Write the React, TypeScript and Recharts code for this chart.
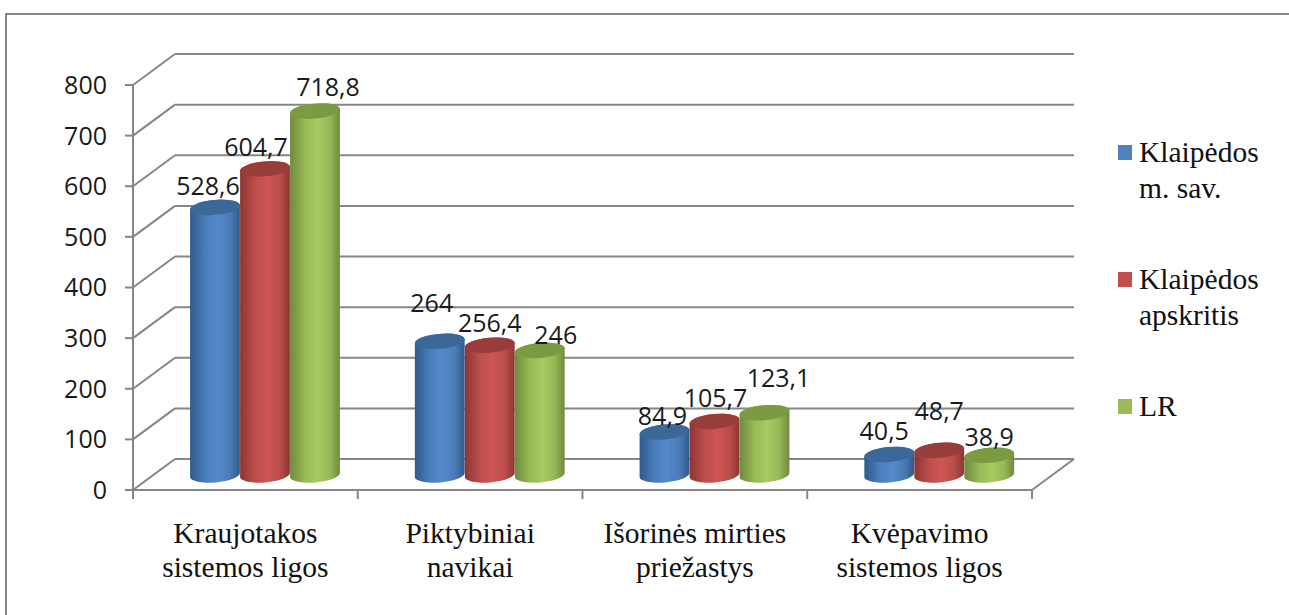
import React from 'react';
import { BarChart, Bar, XAxis, YAxis, CartesianGrid, Legend, LabelList } from 'recharts';

const categories = [
  'Kraujotakos\nsistemos ligos',
  'Piktybiniai\nnavikai',
  'Išorinės mirties\npriežastys',
  'Kvėpavimo\nsistemos ligos',
];
const klaipedaCity = [528.6, 264, 84.9, 40.5];
const klaipedaCounty = [604.7, 256.4, 105.7, 48.7];
const lithuania = [718.8, 246, 123.1, 38.9];
const yTicks = [0, 100, 200, 300, 400, 500, 600, 700, 800];

const chartData = categories.map((name, i) => ({
  name,
  city: klaipedaCity[i],
  county: klaipedaCounty[i],
  lr: lithuania[i],
}));

const WIDTH = 1289;
const HEIGHT = 615;
const GRID = '#868686';
const NUM_FONT = '"Open Sans", sans-serif';
const TEXT_FONT = '"Liberation Serif", serif';

// fake 3D: depth of the floor, bars stand half way in
const DEPTH_X = 42;
const DEPTH_Y = 31;
const BAR_DX = 20;
const BAR_DY = -15;
const RY = 7.5;
const TILT = -5;

const PLOT_LEFT = 133;
const PLOT_RIGHT = 1032;
const BAND = (PLOT_RIGHT - PLOT_LEFT) / categories.length;

// the value labels are not placed evenly in the original
const cityNudge = [[-7, -22], [-8, -39], [-2, -17], [-5, -24]];
const countyNudge = [[-9, -23], [0, -23], [1, -24], [0, -40]];
const lrNudge = [[13, -25], [16, -16], [14, -36], [0, -19]];

const Cylinder = (props: any) => {
  const { x, y, width, height, gradient, cap } = props;
  const rx = width / 2;
  const cx = x + rx + BAR_DX;
  const top = y + BAR_DY;
  const bottom = y + height + BAR_DY;
  const a = (TILT * Math.PI) / 180;
  const ex = rx * Math.cos(a);
  const ey = rx * Math.sin(a);
  const arc = `A${rx} ${RY} ${TILT}`;
  return (
    <g>
      <path
        d={`M${cx - ex} ${top - ey} L${cx - ex} ${bottom - ey} ${arc} 0 0 ${cx + ex} ${bottom + ey} L${cx + ex} ${top + ey} ${arc} 0 0 ${cx - ex} ${top - ey} Z`}
        fill={`url(#${gradient})`}
      />
      <ellipse cx={cx} cy={top} rx={rx} ry={RY} fill={cap} transform={`rotate(${TILT} ${cx} ${top})`} />
    </g>
  );
};

const valueLabel = (nudge: number[][]) => (props: any) => {
  const { x, y, width, value, index } = props;
  const [dx, dy] = nudge[index];
  return (
    <text
      x={x + width / 2 + BAR_DX + dx}
      y={y + BAR_DY + dy}
      textAnchor="middle"
      dominantBaseline="central"
      fontFamily={NUM_FONT}
      fontSize={25}
      fill="#1a1a1a"
    >
      {String(value).replace('.', ',')}
    </text>
  );
};

const GridLine = (props: any) => {
  const { x1, x2, y1, index } = props;
  return (
    <g key={`grid-${index}`} stroke={GRID} strokeWidth={2} fill="none">
      <line x1={x1} y1={y1} x2={x1 + DEPTH_X} y2={y1 - DEPTH_Y} />
      <line x1={x1 + DEPTH_X} y1={y1 - DEPTH_Y} x2={x2 + DEPTH_X} y2={y1 - DEPTH_Y} />
      {y1 > 480 && <line x1={x2} y1={y1} x2={x2 + DEPTH_X} y2={y1 - DEPTH_Y} />}
    </g>
  );
};

const CategoryTick = (props: any) => {
  const { x, y, payload, index } = props;
  const lines = String(payload.value).split('\n');
  const last = index === categories.length - 1;
  return (
    <g>
      <line x1={x - BAND / 2} y1={y} x2={x - BAND / 2} y2={y + 9} stroke={GRID} strokeWidth={2} />
      {last && <line x1={x + BAND / 2} y1={y} x2={x + BAND / 2} y2={y + 9} stroke={GRID} strokeWidth={2} />}
      {lines.map((line, i) => (
        <text
          key={line}
          x={x}
          y={y + 43 + i * 34}
          textAnchor="middle"
          dominantBaseline="central"
          fontFamily={TEXT_FONT}
          fontSize={29.5}
          fill="#111"
        >
          {line}
        </text>
      ))}
    </g>
  );
};

const legendLines: Record<string, string[]> = {
  'Klaipėdos m. sav.': ['Klaipėdos', 'm. sav.'],
  'Klaipėdos apskritis': ['Klaipėdos', 'apskritis'],
  LR: ['LR'],
};

const LegendBox = ({ payload }: any) => (
  <div style={{ fontFamily: TEXT_FONT, fontSize: 29.5, color: '#111' }}>
    {(payload || []).map((item: any) => (
      <div key={item.value} style={{ display: 'flex', height: 127, alignItems: 'flex-start' }}>
        <span style={{ width: 14, height: 15, marginTop: 11, marginRight: 7, background: item.color, flex: 'none' }} />
        <span style={{ lineHeight: '36px' }}>
          {legendLines[item.value].map((line) => (
            <div key={line}>{line}</div>
          ))}
        </span>
      </div>
    ))}
  </div>
);

export default function App() {
  return (
    <div style={{ position: 'absolute', left: 0, top: 0, width: WIDTH, height: HEIGHT, overflow: 'hidden', background: '#fff' }}>
      <div style={{ position: 'absolute', left: 5, top: 13, width: 1400, height: 800, border: `2px solid ${GRID}` }} />
      <div style={{ position: 'absolute', left: 0, top: 0 }}>
        <BarChart
          width={WIDTH}
          height={HEIGHT}
          data={chartData}
          margin={{ top: 85, right: WIDTH - PLOT_RIGHT, bottom: 0, left: 0 }}
          barCategoryGap={37}
          barGap={0}
        >
          <defs>
            <linearGradient id="cylBlue" x1="0" y1="0" x2="1" y2="0">
              <stop offset="0%" stopColor="#2f5a8c" />
              <stop offset="30%" stopColor="#4a7db9" />
              <stop offset="55%" stopColor="#5489cc" />
              <stop offset="80%" stopColor="#4a7cb6" />
              <stop offset="100%" stopColor="#2f5a8c" />
            </linearGradient>
            <linearGradient id="cylRed" x1="0" y1="0" x2="1" y2="0">
              <stop offset="0%" stopColor="#8e3533" />
              <stop offset="30%" stopColor="#bb4e4c" />
              <stop offset="55%" stopColor="#cf5654" />
              <stop offset="80%" stopColor="#ba4d4b" />
              <stop offset="100%" stopColor="#8e3533" />
            </linearGradient>
            <linearGradient id="cylGreen" x1="0" y1="0" x2="1" y2="0">
              <stop offset="0%" stopColor="#6f8a3c" />
              <stop offset="30%" stopColor="#98ba58" />
              <stop offset="55%" stopColor="#a8ca62" />
              <stop offset="80%" stopColor="#97b857" />
              <stop offset="100%" stopColor="#6f8a3e" />
            </linearGradient>
          </defs>
          <CartesianGrid vertical={false} horizontal={GridLine as any} />
          <XAxis
            dataKey="name"
            height={125}
            interval={0}
            tickLine={false}
            tickSize={0}
            tickMargin={0}
            axisLine={{ stroke: GRID, strokeWidth: 2 }}
            tick={CategoryTick as any}
          />
          <YAxis
            width={133}
            domain={[0, 800]}
            ticks={yTicks}
            interval={0}
            tickSize={8}
            tickMargin={18}
            axisLine={{ stroke: GRID, strokeWidth: 2 }}
            tickLine={{ stroke: GRID, strokeWidth: 2 }}
            tick={{ fontFamily: NUM_FONT, fontSize: 25, fill: '#1a1a1a' }}
          />
          <Legend
            layout="vertical"
            align="center"
            verticalAlign="middle"
            itemSorter={null}
            wrapperStyle={{ position: 'absolute', left: 1118, top: 134, width: 165, height: 400 }}
            content={LegendBox as any}
          />
          <Bar
            dataKey="city"
            name="Klaipėdos m. sav."
            fill="#4f81bd"
            isAnimationActive={false}
            shape={(p: any) => <Cylinder {...p} gradient="cylBlue" cap="#3c6899" />}
          >
            <LabelList dataKey="city" content={valueLabel(cityNudge) as any} />
          </Bar>
          <Bar
            dataKey="county"
            name="Klaipėdos apskritis"
            fill="#c0504d"
            isAnimationActive={false}
            shape={(p: any) => <Cylinder {...p} gradient="cylRed" cap="#993d3b" />}
          >
            <LabelList dataKey="county" content={valueLabel(countyNudge) as any} />
          </Bar>
          <Bar
            dataKey="lr"
            name="LR"
            fill="#9bbb59"
            isAnimationActive={false}
            shape={(p: any) => <Cylinder {...p} gradient="cylGreen" cap="#7b9a42" />}
          >
            <LabelList dataKey="lr" content={valueLabel(lrNudge) as any} />
          </Bar>
        </BarChart>
      </div>
    </div>
  );
}
